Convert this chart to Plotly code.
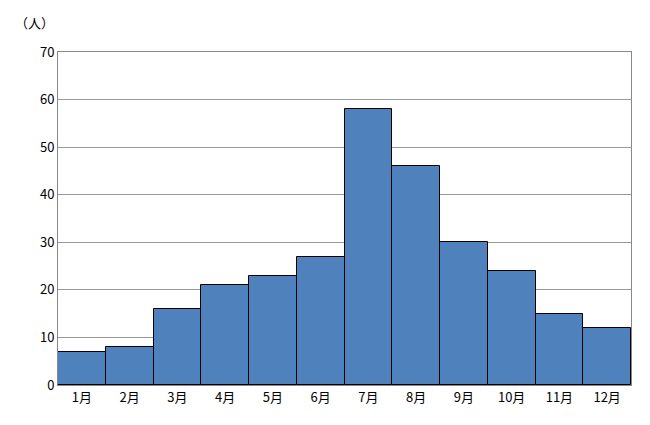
import plotly.graph_objects as go

months = ["1月","2月","3月","4月","5月","6月","7月","8月","9月","10月","11月","12月"]
counts = [7, 8, 16, 21, 23, 27, 58, 46, 30, 24, 15, 12]
y_ticks = [0, 10, 20, 30, 40, 50, 60, 70]

fig = go.Figure(go.Bar(x=months, y=counts, marker=dict(color="#4F81BD", line=dict(color="black", width=1))))
fig.update_layout(
    width=650, height=425, bargap=0, plot_bgcolor="white", paper_bgcolor="white",
    margin=dict(l=50, r=27, t=44, b=48),
    font=dict(family="Noto Sans CJK JP", size=13, color="black"),
    showlegend=False,
    annotations=[dict(text="（人）", x=0, y=1, xref="paper", yref="paper", xanchor="right", yanchor="bottom",
                      xshift=-2, yshift=18, showarrow=False, font=dict(size=13))],
)
fig.update_xaxes(showline=True, linecolor="#888", mirror=True, ticks="", showgrid=False)
fig.update_yaxes(range=[0, 70], tickvals=y_ticks, showline=True, linecolor="#888", mirror=True,
                 showgrid=True, gridcolor="#999", gridwidth=1, ticks="", ticklen=0)
fig.write_html("out.html")
